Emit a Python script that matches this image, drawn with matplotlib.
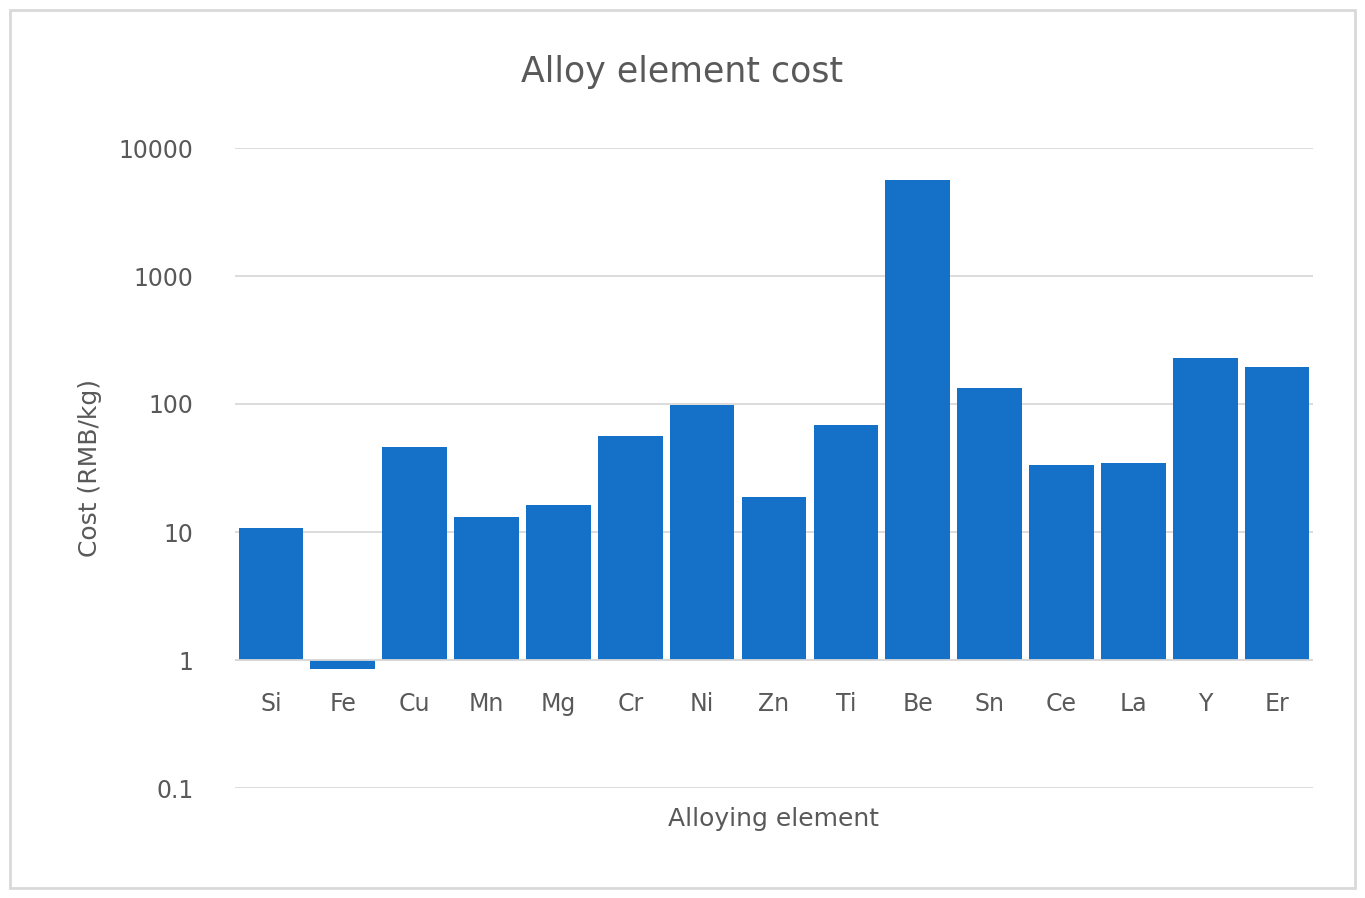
import numpy as np
import matplotlib.pyplot as plt
from matplotlib.patches import Rectangle
from matplotlib.transforms import blended_transform_factory

elements = ['Si', 'Fe', 'Cu', 'Mn', 'Mg', 'Cr', 'Ni', 'Zn', 'Ti', 'Be', 'Sn', 'Ce', 'La', 'Y', 'Er']
cost = [10.7, 0.85, 46, 13.1, 16.3, 56, 98, 18.8, 68.5, 5620, 133, 33.3, 34.5, 230, 195]

fig = plt.figure(figsize=(13.65, 8.98), dpi=100)
ax = fig.add_axes([235 / 1365, 1 - 788 / 898, 1078 / 1365, 640 / 898])

x = np.arange(len(elements))
heights = [c - 1 for c in cost]
ax.bar(x, heights, bottom=1, width=0.9, color='#1570c8', zorder=3)

ax.set_yscale('log')
ax.set_ylim(0.1, 10000)
ax.set_xlim(-0.5, len(elements) - 0.5)
ax.set_yticks([0.1, 1, 10, 100, 1000, 10000])
ax.set_yticklabels(['0.1', '1', '10', '100', '1000', '10000'])
ax.minorticks_off()
ax.tick_params(axis='y', length=0, labelsize=17, colors='#595959', pad=30)
ax.set_xticks([])
ax.grid(axis='y', color='#d9d9d9', linewidth=1.3, zorder=0)
ax.axhline(1, color='#d9d9d9', linewidth=1.3, zorder=4)
for s in ax.spines.values():
    s.set_visible(False)

tr = blended_transform_factory(ax.transData, ax.transData)
for xi, name in zip(x, elements):
    ax.text(xi, 0.45, name, ha='center', va='center', fontsize=17, color='#595959', transform=tr)

ax.set_xlabel('Alloying element', fontsize=18, color='#595959', labelpad=14)
ax.set_ylabel('Cost (RMB/kg)', fontsize=18, color='#595959', labelpad=12)
fig.text(682 / 1365, 1 - 72 / 898, 'Alloy element cost', ha='center', va='center',
         fontsize=25, color='#595959')

fig.add_artist(Rectangle((10 / 1365, 10 / 898), 1345 / 1365, 878 / 898, transform=fig.transFigure,
                         fill=False, edgecolor='#d9d9d9', linewidth=2))

fig.savefig('out.png')
